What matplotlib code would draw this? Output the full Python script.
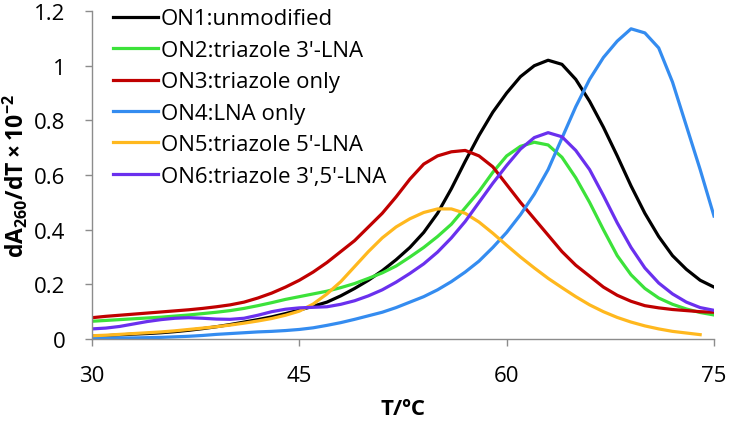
import matplotlib
matplotlib.use("Agg")
import matplotlib.pyplot as plt
import numpy as np

# temperature grid, degrees C
temps = list(range(30, 76))

on1 = [0.01, 0.012, 0.015, 0.018, 0.02, 0.023, 0.027, 0.032, 0.038, 0.045,
       0.053, 0.062, 0.071, 0.081, 0.093, 0.106, 0.12, 0.135, 0.158, 0.185,
       0.215, 0.25, 0.29, 0.335, 0.39, 0.46, 0.55, 0.65, 0.745, 0.83,
       0.9, 0.96, 1.0, 1.02, 1.005, 0.95, 0.87, 0.775, 0.67, 0.56,
       0.46, 0.375, 0.305, 0.255, 0.215, 0.19]
on2 = [0.065, 0.068, 0.071, 0.074, 0.077, 0.08, 0.084, 0.088, 0.093, 0.098,
       0.104, 0.112, 0.122, 0.133, 0.145, 0.155, 0.165, 0.175, 0.188, 0.203,
       0.222, 0.242, 0.267, 0.3, 0.335, 0.375, 0.42, 0.48, 0.54, 0.61,
       0.67, 0.705, 0.72, 0.71, 0.665, 0.59, 0.5, 0.4, 0.305, 0.235,
       0.185, 0.15, 0.127, 0.11, 0.097, 0.088]
on3 = [0.078, 0.083, 0.087, 0.091, 0.095, 0.099, 0.103, 0.107, 0.112, 0.118,
       0.125, 0.135, 0.15, 0.168, 0.19, 0.215, 0.245, 0.28, 0.32, 0.36,
       0.41, 0.46, 0.52, 0.585, 0.64, 0.67, 0.685, 0.69, 0.67, 0.63,
       0.565, 0.5, 0.44, 0.38, 0.32, 0.27, 0.23, 0.19, 0.16, 0.138,
       0.122, 0.114, 0.108, 0.104, 0.1, 0.098]
on4 = [0.005, 0.004, 0.004, 0.004, 0.005, 0.006, 0.008, 0.01, 0.013, 0.017,
       0.02, 0.023, 0.026, 0.028, 0.031, 0.035, 0.041, 0.05, 0.06, 0.072,
       0.085, 0.098, 0.115, 0.135, 0.155, 0.18, 0.21, 0.245, 0.285, 0.335,
       0.39, 0.455, 0.53, 0.62, 0.735, 0.85, 0.95, 1.03, 1.09, 1.135,
       1.12, 1.065, 0.94, 0.78, 0.62, 0.45]
on5 = [0.012, 0.014, 0.017, 0.02, 0.023, 0.026, 0.03, 0.035, 0.04, 0.045,
       0.051, 0.058, 0.066, 0.075, 0.087, 0.102, 0.128, 0.165, 0.21, 0.265,
       0.32, 0.37, 0.41, 0.44, 0.463, 0.476, 0.476, 0.46, 0.428, 0.387,
       0.343, 0.3, 0.26, 0.222, 0.188, 0.155, 0.125, 0.1, 0.079, 0.062,
       0.048, 0.037, 0.028, 0.022, 0.016, np.nan]
on6 = [0.037, 0.04, 0.046, 0.055, 0.064, 0.071, 0.076, 0.078, 0.076, 0.073,
       0.072, 0.076, 0.087, 0.1, 0.109, 0.114, 0.116, 0.118, 0.127, 0.14,
       0.158, 0.18, 0.208, 0.24, 0.275, 0.318, 0.37, 0.43, 0.5, 0.57,
       0.635, 0.695, 0.737, 0.755, 0.74, 0.69, 0.62, 0.525, 0.425, 0.335,
       0.26, 0.205, 0.165, 0.135, 0.115, 0.105]

labels = ["ON1:unmodified", "ON2:triazole 3'-LNA", "ON3:triazole only",
          "ON4:LNA only", "ON5:triazole 5'-LNA", "ON6:triazole 3',5'-LNA"]
colors = ["#000000", "#3ce23a", "#c00000", "#348cf0", "#ffb81e", "#6a30ee"]

plt.rcParams['font.family'] = ['Open Sans', 'DejaVu Sans']
plt.rcParams['mathtext.fontset'] = 'custom'
plt.rcParams['mathtext.rm'] = 'Open Sans'
plt.rcParams['mathtext.bf'] = 'Open Sans:bold'

fig = plt.figure(figsize=(7.29, 4.27), dpi=100)
ax = fig.add_axes([0.1262, 0.2037, 0.8532, 0.7681])

for series, lab, col in zip([on1, on2, on3, on4, on5, on6], labels, colors):
    ax.plot(temps, series, color=col, lw=2.3, label=lab, solid_joinstyle="round")

ax.set_xlim(30, 75)
ax.set_ylim(0, 1.2)
ax.set_xticks([30, 45, 60, 75])
ax.set_yticks([0, 0.2, 0.4, 0.6, 0.8, 1.0, 1.2])
ax.set_yticklabels(["0", "0.2", "0.4", "0.6", "0.8", "1", "1.2"])

for s in ["top", "right"]:
    ax.spines[s].set_visible(False)
for s in ["left", "bottom"]:
    ax.spines[s].set_color("#8c8c8c")
    ax.spines[s].set_linewidth(1.0)
ax.tick_params(axis="both", direction="out", length=5, width=1.0,
               color="#8c8c8c", labelsize=16, pad=14)

ax.set_ylabel(r"$\mathbf{dA_{260}/dT \times 10^{-2}}$", fontsize=16.5)
ax.yaxis.set_label_coords(-0.10, 0.5)
ax.set_xlabel("T/ºC", fontsize=16, fontweight="bold")
ax.xaxis.set_label_coords(0.5, -0.18)

ax.legend(loc="upper left", bbox_to_anchor=(0.02, 1.035), frameon=False,
          fontsize=16, handlelength=2.0, handletextpad=0.15,
          labelspacing=0.47, borderaxespad=0)

fig.savefig("out.png", dpi=100)
